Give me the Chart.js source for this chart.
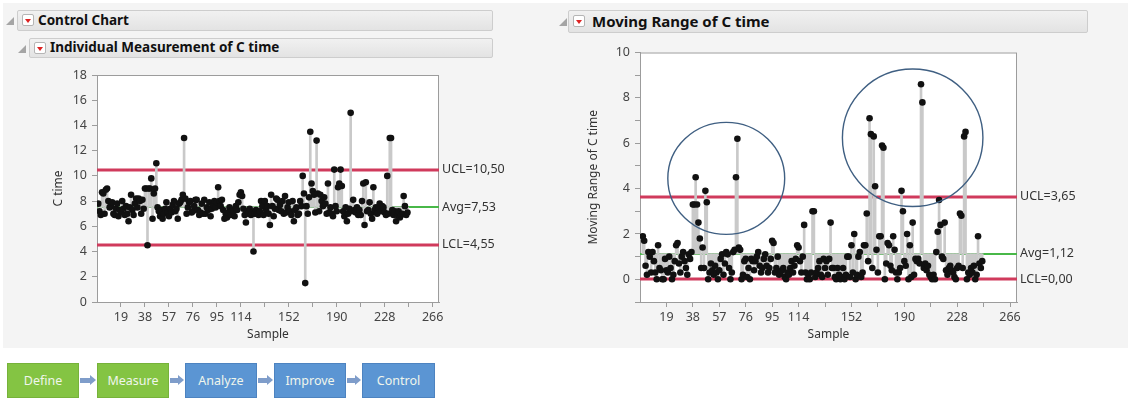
<!DOCTYPE html>
<html>
<head>
<meta charset="utf-8">
<script src="https://cdn.jsdelivr.net/npm/chart.js@4.4.1/dist/chart.umd.min.js"></script>
<style>
  body { margin: 0; width: 1128px; height: 398px; background: #fff; position: relative; overflow: hidden; font-family: 'Noto Sans', sans-serif; }
  .panel { position: absolute; left: 3px; top: 3px; width: 1125px; height: 345px; background: #f4f4f4; }
  .hdr { position: absolute; box-sizing: border-box; background: linear-gradient(#f1f1f1, #e3e3e3); border: 1px solid #cdcdcd; border-radius: 2px; }
  .txt { position: absolute; font-weight: bold; color: #111; white-space: nowrap; }
  .tri { position: absolute; width: 0; height: 0; border-left: 8px solid transparent; border-bottom: 8px solid #a5a5a5; }
  .ico { position: absolute; box-sizing: border-box; width: 12px; height: 12px; background: #fff; border: 1px solid #b5b5b5; border-radius: 2px; }
  .ico::after { content: ''; position: absolute; left: 2px; top: 3.5px; border-left: 3.5px solid transparent; border-right: 3.5px solid transparent; border-top: 4px solid #d22; }
  canvas { position: absolute; }
  .step { position: absolute; top: 363px; height: 35px; box-sizing: border-box; color: #f0f6ec; font-size: 12.5px; display: flex; align-items: center; justify-content: center; }
  .green { background: #84c443; border: 1px solid #76b23a; }
  .blue { background: #5b95d3; border: 1px solid #4d83c0; }
  .arrow { position: absolute; top: 378px; height: 5px; background: #7f9dca; }
  .arrow::after { content: ''; position: absolute; right: -5px; top: -3px; border-top: 5.5px solid transparent; border-bottom: 5.5px solid transparent; border-left: 6px solid #7f9dca; }
</style>
</head>
<body>
<div class="panel"></div>

<div class="hdr" style="left:17px;top:10px;width:476px;height:21px"></div>
<div class="tri" style="left:6px;top:17px"></div>
<div class="ico" style="left:22px;top:14px"></div>
<div class="txt" style="left:38px;top:11px;font-size:13.5px">Control Chart</div>

<div class="hdr" style="left:29px;top:38px;width:464px;height:20px"></div>
<div class="tri" style="left:18px;top:45px"></div>
<div class="ico" style="left:34px;top:42px"></div>
<div class="txt" style="left:50px;top:38px;font-size:13.5px">Individual Measurement of C time</div>

<div class="hdr" style="left:568px;top:10px;width:520px;height:23px"></div>
<div class="tri" style="left:559px;top:18px"></div>
<div class="ico" style="left:573px;top:15px"></div>
<div class="txt" style="left:592px;top:11px;font-size:15px">Moving Range of C time</div>

<canvas id="ichart" width="560" height="290" style="left:0;top:60px"></canvas>
<canvas id="mrchart" width="568" height="310" style="left:560px;top:40px"></canvas>

<div class="step green" style="left:7px;width:72px">Define</div>
<div class="arrow" style="left:80px;width:11px"></div>
<div class="step green" style="left:97px;width:72px">Measure</div>
<div class="arrow" style="left:170px;width:9px"></div>
<div class="step blue" style="left:185px;width:72px">Analyze</div>
<div class="arrow" style="left:258px;width:10px"></div>
<div class="step blue" style="left:274px;width:72px">Improve</div>
<div class="arrow" style="left:347px;width:9px"></div>
<div class="step blue" style="left:362px;width:73px">Control</div>

<script>
// individual values of C time, samples 1..246
const cTime = [
  7.8, 7.2, 6.9, 8.7, 8.6, 7.0, 8.9, 9.0, 8.0, 7.5,
  7.6, 7.9, 7.0, 6.9, 7.4, 7.8, 6.8, 7.3, 7.1, 8.0,
  7.4, 6.9, 7.6, 7.0, 6.4, 7.5, 8.5, 7.3, 6.9, 7.8,
  8.2, 7.5, 8.2, 8.0, 7.0, 8.1, 7.4, 9.0, 9.0, 4.5,
  9.0, 9.0, 9.8, 6.6, 8.6, 9.0, 11.0, 7.5, 7.2, 6.8,
  7.3, 6.6, 7.0, 7.4, 7.9, 7.1, 6.8, 7.4, 7.1, 7.7,
  8.0, 7.2, 7.4, 6.6, 7.8, 7.9, 8.1, 8.5, 13.0, 8.2,
  7.0, 7.5, 7.9, 8.0, 7.1, 7.2, 7.6, 8.1, 8.1, 7.3,
  6.9, 7.1, 7.8, 7.0, 8.1, 7.0, 7.5, 7.3, 7.9, 6.8,
  7.4, 7.7, 8.0, 7.5, 7.9, 9.1, 8.0, 7.6, 8.1, 7.3,
  6.6, 7.0, 6.7, 7.1, 7.5, 6.9, 7.3, 7.2, 6.8, 7.6,
  7.3, 7.9, 8.5, 8.7, 8.4, 7.4, 6.9, 6.3, 7.2, 7.0,
  7.4, 6.9, 7.1, 4.0, 7.0, 7.3, 7.0, 6.9, 7.2, 8.0,
  7.6, 6.9, 8.0, 7.3, 7.6, 7.0, 6.1, 8.5, 7.6, 6.8,
  7.4, 8.2, 8.1, 7.3, 7.7, 7.2, 8.0, 7.0, 8.4, 7.1,
  7.5, 7.9, 7.2, 6.9, 8.0, 6.4, 7.3, 7.5, 6.9, 7.0,
  8.0, 7.6, 10.0, 8.6, 1.5, 7.6, 7.0, 8.3, 13.5, 9.4,
  8.8, 8.5, 7.1, 12.8, 8.6, 7.2, 8.5, 8.0, 7.6, 8.3,
  7.8, 7.0, 9.4, 7.1, 7.5, 7.0, 6.8, 10.5, 7.6, 7.2,
  9.1, 9.4, 10.5, 9.2, 7.2, 6.8, 7.5, 6.4, 7.0, 7.4,
  15.0, 7.2, 8.1, 7.3, 7.1, 7.5, 6.9, 7.3, 6.9, 8.0,
  9.4, 6.1, 9.5, 7.2, 7.3, 7.9, 7.0, 6.6, 9.1, 7.3,
  7.5, 7.0, 7.5, 7.8, 7.2, 7.6, 7.5, 7.1, 6.9, 10.0,
  7.0, 13.0, 13.0, 7.3, 6.9, 7.2, 6.4, 6.9, 7.2, 6.7,
  6.9, 7.0, 8.4, 7.6, 6.9, 7.1
];

// moving range, samples 1..246 (none for the first sample)
const movingRange = [
  null, 1.9, 1.7, 0.6, 0.2, 1.2, 1.0, 0.3, 1.2, 0.8,
  0.3, 0.0, 1.5, 0.5, 0.4, 0.0, 0.0, 0.9, 0.4, 0.3,
  1.0, 0.5, 0.0, 0.2, 0.8, 1.5, 1.6, 0.7, 0.3, 1.0,
  1.2, 0.8, 0.5, 0.2, 1.1, 0.9, 1.2, 3.3, 3.3, 4.5,
  3.3, 2.5, 1.8, 0.5, 1.4, 0.5, 3.9, 3.4, 0.0, 0.3,
  0.7, 0.4, 0.2, 0.6, 0.3, 0.0, 0.4, 0.9, 1.1, 0.2,
  0.7, 1.2, 1.1, 0.5, 0.0, 0.3, 1.2, 1.3, 4.5, 6.2,
  1.4, 1.3, 0.0, 0.2, 0.8, 0.9, 0.1, 0.5, 0.0, 0.9,
  0.8, 0.4, 0.8, 1.0, 1.2, 0.6, 0.3, 0.5, 0.9, 1.1,
  0.6, 0.3, 0.5, 0.9, 1.7, 1.6, 0.3, 0.5, 1.0, 0.2,
  0.3, 0.4, 0.5, 0.1, 0.0, 0.3, 0.2, 0.5, 0.8, 0.3,
  0.6, 0.9, 1.5, 1.4, 0.8, 0.3, 1.0, 2.4, 0.3, 0.0,
  0.2, 0.0, 0.3, 3.0, 3.0, 0.1, 0.3, 0.5, 0.8, 0.2,
  0.1, 0.9, 0.5, 0.8, 0.2, 0.9, 2.5, 0.5, 0.5, 0.1,
  0.0, 0.5, 0.2, 0.0, 0.1, 0.5, 0.0, 0.2, 1.0, 1.0,
  0.1, 1.5, 0.3, 2.0, 0.0, 0.2, 1.0, 1.2, 0.1, 0.3,
  1.5, 1.5, 2.9, 0.8, 7.1, 6.4, 0.5, 6.3, 4.1, 1.3,
  0.3, 1.9, 1.9, 5.9, 5.8, 0.0, 0.7, 1.6, 1.5, 0.6,
  0.4, 1.9, 1.3, 0.3, 0.0, 0.3, 0.5, 3.9, 3.0, 0.8,
  0.6, 2.0, 0.0, 1.5, 0.1, 2.5, 0.2, 0.9, 0.8, 0.9,
  0.7, 8.6, 7.8, 0.5, 0.7, 0.4, 0.6, 0.2, 0.1, 0.0,
  0.2, 0.0, 1.2, 2.1, 3.5, 2.4, 1.0, 0.9, 2.5, 0.4,
  0.2, 0.5, 0.6, 0.4, 0.3, 0.1, 0.0, 0.5, 0.6, 2.9,
  2.8, 0.5, 6.3, 6.5, 0.0, 0.3, 0.2, 0.5, 0.3, 0.6,
  0.0, 0.2, 1.9, 0.7, 0.5, 0.8
];

const limitNames = ['LCL', 'Avg', 'UCL'];
const iLimits = [4.55, 7.53, 10.50];
const mrLimits = [0.00, 1.12, 3.65];

const xTicks = [19, 38, 57, 76, 95, 114, 133, 152, 171, 190, 209, 228, 247, 266];
const xTickLabels = [19, 38, 57, 76, 95, 114, 152, 190, 228, 266];

// hand drawn circles on the moving range chart: [sample, value, x radius, y radius]
const mrCircles = [[62, 4.45, 42, 2.47], [196, 6.24, 50.5, 3.03]];

const RED = 'rgb(208, 58, 92)';
const GREEN = 'rgb(72, 184, 72)';
const AXIS = '#9c9c9c';

Chart.defaults.font.family = "'Noto Sans', sans-serif";
Chart.defaults.font.size = 12;
Chart.defaults.color = '#444';

// white plot box with a grey frame
const plotBox = {
  id: 'plotBox',
  beforeDraw(chart) {
    const { ctx, chartArea: a } = chart;
    ctx.save();
    ctx.fillStyle = '#fff';
    ctx.fillRect(a.left, a.top, a.right - a.left, a.bottom - a.top);
    ctx.strokeStyle = AXIS;
    ctx.lineWidth = 1;
    ctx.strokeRect(a.left + 0.5, a.top + 0.5, a.right - a.left - 1, a.bottom - a.top);
    ctx.restore();
  }
};

// LCL / Avg / UCL lines
const limitLines = {
  id: 'limitLines',
  beforeDatasetsDraw(chart, args, opts) {
    const { ctx, chartArea: a, scales: { y } } = chart;
    opts.values.forEach((v, i) => {
      const py = Math.round(y.getPixelForValue(v));
      ctx.save();
      ctx.strokeStyle = i === 1 ? GREEN : RED;
      ctx.lineWidth = i === 1 ? 2 : 3;
      ctx.beginPath();
      ctx.moveTo(a.left, py);
      ctx.lineTo(a.right, py);
      ctx.stroke();
      ctx.restore();
    });
  }
};

const circles = {
  id: 'circles',
  afterDatasetsDraw(chart, args, opts) {
    const { ctx, scales: { x, y } } = chart;
    (opts.items || []).forEach(([cx, cy, rx, ry]) => {
      const px = x.getPixelForValue(cx);
      const py = y.getPixelForValue(cy);
      const prx = Math.abs(x.getPixelForValue(cx + rx) - px);
      const pry = Math.abs(y.getPixelForValue(cy + ry) - py);
      ctx.save();
      ctx.strokeStyle = '#3f5f82';
      ctx.lineWidth = 1.4;
      ctx.beginPath();
      ctx.ellipse(px, py, prx, pry, 0, 0, Math.PI * 2);
      ctx.stroke();
      ctx.restore();
    });
  }
};

function makeChart(id, cfg) {
  const pts = cfg.values.map((v, i) => ({ x: i + 1, y: v })).filter(p => p.y !== null);
  const needles = pts.map(p => ({ x: p.x, y: [cfg.limits[1], p.y] }));

  return new Chart(document.getElementById(id), {
    type: 'scatter',
    data: {
      datasets: [
        {
          type: 'scatter',
          data: pts,
          pointRadius: 3.3,
          pointBackgroundColor: '#111',
          pointBorderWidth: 0,
          order: 0
        },
        {
          type: 'bar',
          data: needles,
          backgroundColor: '#c9c9c9',
          barThickness: 2,
          order: 1
        }
      ]
    },
    options: {
      responsive: false,
      animation: false,
      devicePixelRatio: 1,
      layout: { padding: cfg.padding },
      plugins: {
        legend: { display: false },
        tooltip: { enabled: false },
        limitLines: { values: cfg.limits },
        circles: { items: cfg.circles }
      },
      scales: {
        x: {
          type: 'linear',
          min: 0,
          max: 271,
          offset: false,
          afterBuildTicks: s => { s.ticks = xTicks.map(v => ({ value: v })); },
          afterFit: s => { s.height = 40; },
          ticks: {
            autoSkip: false,
            maxRotation: 0,
            padding: 3,
            color: '#444',
            font: { size: 12.5 },
            callback: v => xTickLabels.includes(v) ? String(v) : ''
          },
          grid: { offset: false, drawOnChartArea: false, tickLength: 5, color: AXIS },
          border: { color: AXIS },
          title: { display: true, text: 'Sample', color: '#333', padding: { top: 1, bottom: 0 } }
        },
        y: {
          min: cfg.yMin,
          max: cfg.yMax,
          afterBuildTicks: s => { s.ticks = cfg.yTicks.map(v => ({ value: v })); },
          afterFit: s => { s.width = cfg.yWidth; },
          ticks: {
            padding: 5,
            color: '#444',
            font: { size: 12.5 },
            callback: v => cfg.yLabels.includes(v) ? String(v) : ''
          },
          grid: { drawOnChartArea: false, tickLength: 5, color: AXIS },
          border: { color: AXIS },
          title: { display: true, text: cfg.yTitle, color: '#333', padding: { top: cfg.titlePad, bottom: 0 } }
        },
        y2: {
          position: 'right',
          min: cfg.yMin,
          max: cfg.yMax,
          afterBuildTicks: s => { s.ticks = cfg.limits.map(v => ({ value: v })); },
          afterFit: s => { s.width = cfg.y2Width; },
          ticks: {
            padding: 3,
            color: '#333',
            font: { size: 12.5 },
            callback: (v, i) => limitNames[i] + '=' + cfg.limits[i].toFixed(2).replace('.', ',')
          },
          grid: { display: false, drawTicks: false },
          border: { display: false }
        }
      }
    },
    plugins: [plotBox, limitLines, circles]
  });
}

makeChart('ichart', {
  values: cTime,
  limits: iLimits,
  yMin: 0,
  yMax: 18,
  yTicks: [0, 2, 4, 6, 8, 10, 12, 14, 16, 18],
  yLabels: [0, 2, 4, 6, 8, 10, 12, 14, 16, 18],
  yTitle: 'C time',
  titlePad: 8,
  yWidth: 54,
  y2Width: 110,
  padding: { left: 43, top: 15, right: 11, bottom: 8 },
  circles: []
});

makeChart('mrchart', {
  values: movingRange,
  limits: mrLimits,
  yMin: -1,
  yMax: 10,
  yTicks: [-1, 0, 1, 2, 3, 4, 5, 6, 7, 8, 9, 10],
  yLabels: [0, 2, 4, 6, 8, 10],
  yTitle: 'Moving Range of C time',
  titlePad: 4,
  yWidth: 58,
  y2Width: 100,
  padding: { left: 22, top: 12, right: 11, bottom: 8 },
  circles: mrCircles
});
</script>
</body>
</html>
